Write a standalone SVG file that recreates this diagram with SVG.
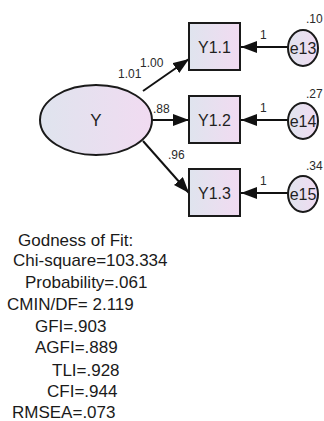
<svg xmlns="http://www.w3.org/2000/svg" width="324" height="421" viewBox="0 0 324 421">
<defs>
<linearGradient id="g" x1="0" y1="0" x2="1" y2="0">
<stop offset="0" stop-color="#dfe4ee"/>
<stop offset="1" stop-color="#f1dbf1"/>
</linearGradient>
<marker id="ah" viewBox="0 0 16 12" refX="16" refY="6" markerWidth="16" markerHeight="12" markerUnits="userSpaceOnUse" orient="auto">
<path d="M0,0 L16,6 L0,12 Z" fill="#111"/>
</marker>
<style>
.shape{fill:url(#g);stroke:#1a1a1a;stroke-width:2}
.lbl{font-family:"Liberation Sans",Arial,sans-serif;font-size:16px;fill:#1f1f1f;text-anchor:middle}
.sm{font-family:"Liberation Sans",Arial,sans-serif;font-size:12px;fill:#2a2a2a}
.fit{font-family:"Liberation Sans",Arial,sans-serif;font-size:17px;fill:#1a1a1a}
.edge{stroke:#111;stroke-width:2;fill:none;marker-end:url(#ah)}
</style>
</defs>
<rect width="324" height="421" fill="#fff"/>
<g id="connectors">
<line class="edge" x1="143" y1="91" x2="189" y2="59"/>
<line class="edge" x1="152" y1="120" x2="189" y2="120"/>
<line class="edge" x1="143" y1="141" x2="189" y2="193"/>
<line class="edge" x1="288" y1="47" x2="241" y2="47"/>
<line class="edge" x1="288" y1="120" x2="241" y2="120"/>
<line class="edge" x1="288" y1="193" x2="241" y2="193"/>
<text class="sm" x="118" y="78">1.01</text>
<text class="sm" x="140" y="67">1.00</text>
<text class="sm" x="153" y="113">.88</text>
<text class="sm" x="168" y="159">.96</text>
<text class="sm" x="260" y="39">1</text>
<text class="sm" x="260" y="112">1</text>
<text class="sm" x="260" y="185">1</text>
</g>
<g id="Y">
<ellipse class="shape" cx="96" cy="120" rx="56" ry="35"/>
<text class="lbl" x="96" y="126" style="font-size:17px">Y</text>
</g>
<g id="Y1.1">
<rect class="shape" x="189" y="23" width="51" height="47"/>
<text class="lbl" x="214.5" y="52.5">Y1.1</text>
</g>
<g id="Y1.2">
<rect class="shape" x="189" y="96" width="51" height="47"/>
<text class="lbl" x="214.5" y="125.5">Y1.2</text>
</g>
<g id="Y1.3">
<rect class="shape" x="189" y="169" width="51" height="47"/>
<text class="lbl" x="214.5" y="198.5">Y1.3</text>
</g>
<g id="e13">
<ellipse class="shape" cx="303" cy="48" rx="15" ry="18"/>
<text class="lbl" x="303" y="54">e13</text>
<text class="sm" x="306" y="23">.10</text>
</g>
<g id="e14">
<ellipse class="shape" cx="303" cy="121" rx="15" ry="18"/>
<text class="lbl" x="303" y="127">e14</text>
<text class="sm" x="306" y="98">.27</text>
</g>
<g id="e15">
<ellipse class="shape" cx="303" cy="194" rx="15" ry="18"/>
<text class="lbl" x="303" y="200">e15</text>
<text class="sm" x="306" y="170">.34</text>
</g>
<g id="fit">
<text class="fit" x="18" y="246">Godness of Fit:</text>
<text class="fit" x="13" y="266">Chi-square=103.334</text>
<text class="fit" x="25" y="288">Probability=.061</text>
<text class="fit" x="7" y="310">CMIN/DF= 2.119</text>
<text class="fit" x="35" y="332">GFI=.903</text>
<text class="fit" x="35" y="353">AGFI=.889</text>
<text class="fit" x="52" y="376">TLI=.928</text>
<text class="fit" x="47" y="397">CFI=.944</text>
<text class="fit" x="12" y="418">RMSEA=.073</text>
</g>
</svg>
